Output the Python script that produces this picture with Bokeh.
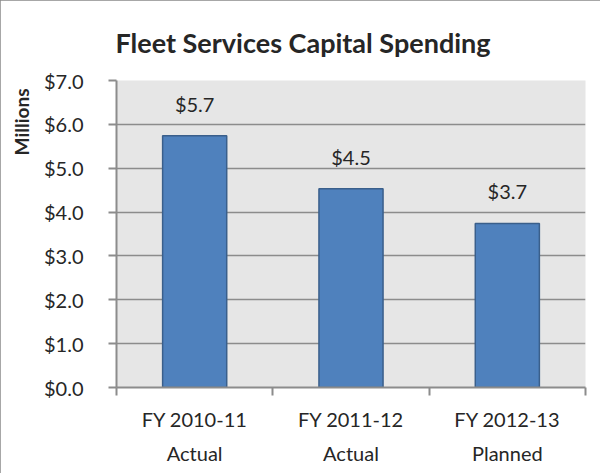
from bokeh.plotting import figure
from bokeh.models import (Range1d, ColumnDataSource, LabelSet, Title,
                          LinearAxis, FixedTicker, NumeralTickFormatter)
from bokeh.core.properties import value
from bokeh.embed import file_html
from bokeh.resources import INLINE

# ---- data ----
fiscal_years = ["FY 2010-11", "FY 2011-12", "FY 2012-13"]
status = ["Actual", "Actual", "Planned"]
spending = [5.74, 4.53, 3.74]  # millions of dollars
value_labels = ["$5.7", "$4.5", "$3.7"]
y_ticks = [0, 1, 2, 3, 4, 5, 6, 7]
title_text = "Fleet Services Capital Spending"
y_title = "Millions"

n = len(fiscal_years)
centers = [i + 0.5 for i in range(n)]

FONT = "Lato"
TEXT = "#262626"
GRID = "#8c8c8c"

p = figure(width=600, height=473, output_backend="svg", toolbar_location=None,
           x_range=Range1d(0, n), y_range=Range1d(0, 7), x_axis_type=None,
           min_border_left=116, min_border_right=15, min_border_top=80, min_border_bottom=86)
p.background_fill_color = "#e6e6e6"
p.border_fill_color = "white"
p.outline_line_color = None
p.styles = {"outline": "2px solid #8a8a8a", "outline-offset": "-2px"}

# title
p.title.text = title_text
p.title.text_font = FONT
p.title.text_font_size = "27px"
p.title.text_font_style = "bold"
p.title.text_color = TEXT
p.title.align = "left"
p.title.offset = -1
p.title.vertical_align = "top"
p.title.standoff = 40

src = ColumnDataSource(dict(x=centers, top=spending, label=value_labels))
p.vbar(x="x", top="top", width=0.41, source=src, fill_color="#4F81BD",
       line_color="#3A5F8B", line_width=1.5)

# y axis
yax = p.yaxis[0]
yax.ticker = FixedTicker(ticks=y_ticks)
yax.formatter = NumeralTickFormatter(format="$0.0")
yax.major_label_text_font = FONT
yax.major_label_text_font_size = "20px"
yax.major_label_text_color = TEXT
yax.major_label_standoff = 25
yax.major_tick_in = 0
yax.major_tick_out = 8
yax.major_tick_line_color = GRID
yax.major_tick_line_width = 2
yax.minor_tick_line_color = None
yax.axis_line_color = GRID
yax.axis_line_width = 2

p.ygrid.ticker = FixedTicker(ticks=y_ticks)
p.ygrid.grid_line_color = GRID
p.ygrid.grid_line_width = 1.5
p.xgrid.grid_line_color = None

# y title as a side title
p.add_layout(Title(text=y_title, align="right", offset=8, standoff=15,
                   text_font=FONT, text_font_size="19px", text_font_style="bold",
                   text_color=TEXT), "left")

# x boundary ticks axis
tick_ax = LinearAxis(ticker=FixedTicker(ticks=list(range(n + 1))),
                     major_tick_in=0, major_tick_out=8, major_tick_line_color=GRID,
                     major_tick_line_width=2, minor_tick_line_color=None,
                     axis_line_color=GRID, axis_line_width=2,
                     major_label_text_font_size="1px", major_label_standoff=0,
                     major_label_text_alpha=0)

def label_axis(texts, standoff):
    return LinearAxis(ticker=FixedTicker(ticks=centers),
                      major_label_overrides={c: t for c, t in zip(centers, texts)},
                      axis_line_color=None, major_tick_line_color=None,
                      minor_tick_line_color=None, major_tick_in=0, major_tick_out=0,
                      major_label_text_font=FONT, major_label_text_font_size="20px",
                      major_label_text_color=TEXT, major_label_standoff=standoff)

p.add_layout(tick_ax, "below")
p.add_layout(label_axis(fiscal_years, 11), "below")
p.add_layout(label_axis(status, 7), "below")

# value labels
p.add_layout(LabelSet(x="x", y="top", text="label", source=src, y_offset=32,
                      text_align="center", text_baseline="middle",
                      text_font=value(FONT), text_font_size="20px", text_color=TEXT))

open("out.html", "w").write(file_html(p, INLINE))
